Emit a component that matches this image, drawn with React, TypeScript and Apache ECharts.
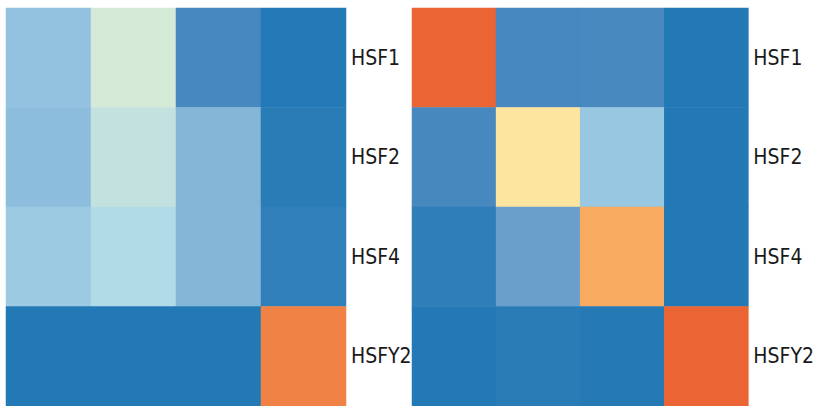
import React, { useEffect, useRef } from "react";
import * as echarts from "echarts";

const rows = ["HSF1", "HSF2", "HSF4", "HSFY2"];
const cols = ["c1", "c2", "c3", "c4"];

// values per row (top to bottom), per column (left to right)
const leftValues = [
  [3.0, 5.0, 1.0, 0.05],
  [2.85, 4.5, 2.65, 0.22],
  [3.3, 4.0, 2.65, 0.42],
  [0.0, 0.0, 0.0, 7.58],
];
const rightValues = [
  [8.0, 1.0, 1.05, 0.0],
  [1.02, 6.0, 3.2, 0.0],
  [0.36, 2.0, 7.0, 0.0],
  [0.0, 0.22, 0.08, 8.0],
];

const palette = [
  "#2279b5",
  "#4688bf",
  "#6a9fcb",
  "#92c2df",
  "#b2dbe8",
  "#d4e9d6",
  "#fde49f",
  "#f8ab60",
  "#eb6434",
];

function toData(vals: number[][]) {
  const out: number[][] = [];
  vals.forEach((row, r) => row.forEach((v, c) => out.push([c, r, v])));
  return out;
}

export default function App() {
  const ref = useRef<HTMLDivElement>(null);
  useEffect(() => {
    if (!ref.current) return;
    const chart = echarts.init(ref.current, null, { renderer: "svg" });
    const labelStyle = {
      show: true,
      color: "#1a1a1a",
      fontSize: 21,
      fontFamily: "'Liberation Sans Narrow', 'DejaVu Sans Condensed', 'Liberation Sans', sans-serif",
      margin: 5,
    };
    const xAxisBase = {
      type: "category" as const,
      data: cols,
      show: false,
    };
    const yAxisBase = {
      type: "category" as const,
      data: rows,
      inverse: true,
      position: "right" as const,
      axisLine: { show: false },
      axisTick: { show: false },
      splitLine: { show: false },
      axisLabel: labelStyle,
    };
    chart.setOption({
      animation: false,
      grid: [
        { left: 6, top: 8, width: 340, height: 398 },
        { left: 412, top: 8, width: 339, height: 398 },
      ],
      xAxis: [
        { ...xAxisBase, gridIndex: 0 },
        { ...xAxisBase, gridIndex: 1 },
      ],
      yAxis: [
        { ...yAxisBase, gridIndex: 0 },
        { ...yAxisBase, gridIndex: 1 },
      ],
      visualMap: {
        show: false,
        type: "continuous",
        min: 0,
        max: 8,
        seriesIndex: [0, 1],
        inRange: { color: palette },
      },
      series: [
        {
          type: "heatmap",
          xAxisIndex: 0,
          yAxisIndex: 0,
          data: toData(leftValues),
          itemStyle: { borderWidth: 0 },
          emphasis: { disabled: true },
        },
        {
          type: "heatmap",
          xAxisIndex: 1,
          yAxisIndex: 1,
          data: toData(rightValues),
          itemStyle: { borderWidth: 0 },
          emphasis: { disabled: true },
        },
      ],
    });
    return () => chart.dispose();
  }, []);
  return (
    <div
      ref={ref}
      style={{ position: "absolute", left: 0, top: 0, width: 817, height: 406 }}
    />
  );
}
